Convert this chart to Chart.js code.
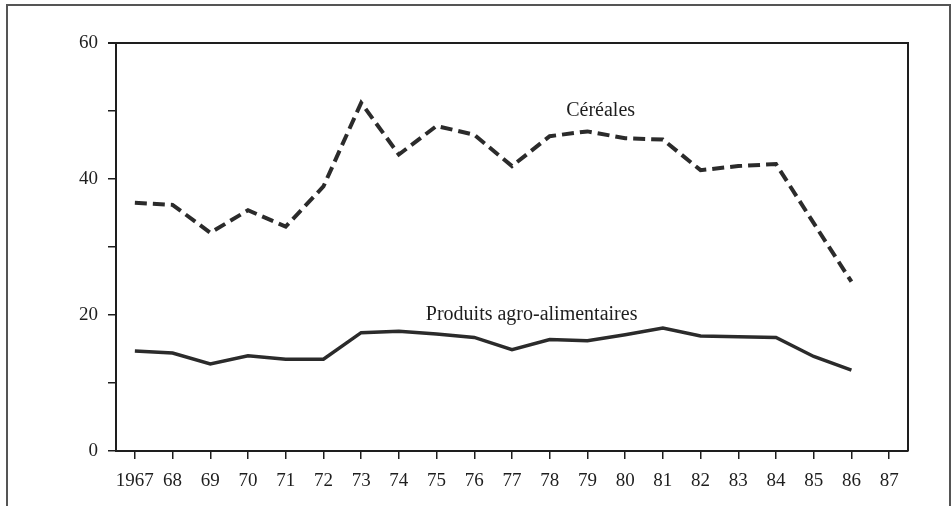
<!DOCTYPE html>
<html>
<head>
<meta charset="utf-8">
<script src="https://cdn.jsdelivr.net/npm/chart.js@4/dist/chart.umd.min.js"></script>
<style>
  html, body { margin: 0; padding: 0; background: #fff; }
  #wrap { position: relative; width: 952px; height: 506px; overflow: hidden; }
  #frame {
    position: absolute; left: 6px; top: 4px; width: 941px; height: 520px;
    border: 2px solid #555; border-bottom: none;
  }
  #chart { position: absolute; left: 0; top: 0; }
</style>
</head>
<body>
<div id="wrap">
  <div id="frame"></div>
  <canvas id="chart" width="952" height="506"></canvas>
</div>
<script>
// Years on the x axis (1987 has no data)
const years = ['1967', '68', '69', '70', '71', '72', '73', '74', '75', '76', '77',
               '78', '79', '80', '81', '82', '83', '84', '85', '86', '87'];

// Céréales (dashed line)
const cereales = [36.5, 36.2, 32.1, 35.4, 33.0, 38.9, 51.2, 43.6, 47.8, 46.5, 41.9,
                  46.3, 47.0, 46.0, 45.8, 41.3, 41.9, 42.2, 33.5, 24.9, null];

// Produits agro-alimentaires (solid line)
const produits = [14.7, 14.4, 12.8, 14.0, 13.5, 13.5, 17.4, 17.6, 17.2, 16.7, 14.9,
                  16.4, 16.2, 17.1, 18.1, 16.9, 16.8, 16.7, 13.9, 11.9, null];

const yTicks = [0, 20, 40, 60];

const serif = '"Liberation Serif", "DejaVu Serif", serif';
const ink = '#1e1e1e';

// Series names written next to the lines, placed in data units
const seriesLabels = [
    { text: 'Céréales', x: 12.35, y: 50.1 },
    { text: 'Produits agro-alimentaires', x: 10.52, y: 20.1 }
];

const labelPlugin = {
    id: 'seriesLabels',
    afterDatasetsDraw(chart) {
        const { ctx, scales } = chart;
        ctx.save();
        ctx.font = '20px ' + serif;
        ctx.fillStyle = ink;
        ctx.textAlign = 'center';
        ctx.textBaseline = 'middle';
        seriesLabels.forEach(l => {
            ctx.fillText(l.text, scales.x.getPixelForValue(l.x), scales.y.getPixelForValue(l.y));
        });
        ctx.restore();
    }
};

const framePlugin = {
    id: 'plotFrame',
    afterDraw(chart) {
        const a = chart.chartArea;
        const ctx = chart.ctx;
        ctx.save();
        ctx.strokeStyle = ink;
        ctx.lineWidth = 2;
        ctx.beginPath();
        ctx.moveTo(a.left - 8, a.top);
        ctx.lineTo(a.right, a.top);
        ctx.lineTo(a.right, a.bottom);
        ctx.stroke();
        ctx.restore();
    }
};

const ctx = document.getElementById('chart').getContext('2d');
new Chart(ctx, {
    type: 'line',
    data: {
        labels: years,
        datasets: [
            {
                label: 'Céréales',
                data: cereales,
                borderColor: '#2b2b2b',
                borderWidth: 4,
                borderDash: [12, 6],
                pointRadius: 0,
                tension: 0,
                fill: false
            },
            {
                label: 'Produits agro-alimentaires',
                data: produits,
                borderColor: '#2b2b2b',
                borderWidth: 3.5,
                pointRadius: 0,
                tension: 0,
                fill: false
            }
        ]
    },
    options: {
        responsive: false,
        animation: false,
        layout: { padding: { left: 0, top: 43, right: 44, bottom: 0 } },
        plugins: {
            legend: { display: false },
            tooltip: { enabled: false }
        },
        scales: {
            x: {
                type: 'category',
                offset: true,
                afterFit(scale) { scale.height = 55; },
                border: { display: true, color: ink, width: 2 },
                grid: { drawOnChartArea: false, drawTicks: true, tickLength: 8, color: ink, lineWidth: 1.5, offset: false },
                ticks: {
                    color: ink,
                    font: { family: serif, size: 19 },
                    padding: 11,
                    maxRotation: 0,
                    autoSkip: false
                }
            },
            y: {
                min: 0,
                max: 60,
                afterFit(scale) { scale.width = 116; },
                border: { display: true, color: ink, width: 2 },
                grid: { drawOnChartArea: false, drawTicks: true, tickLength: 8, color: ink, lineWidth: 1.5 },
                ticks: {
                    stepSize: 10,
                    color: ink,
                    font: { family: serif, size: 19 },
                    padding: 10,
                    callback: v => yTicks.includes(v) ? v : ''
                }
            }
        }
    },
    plugins: [labelPlugin, framePlugin]
});
</script>
</body>
</html>
